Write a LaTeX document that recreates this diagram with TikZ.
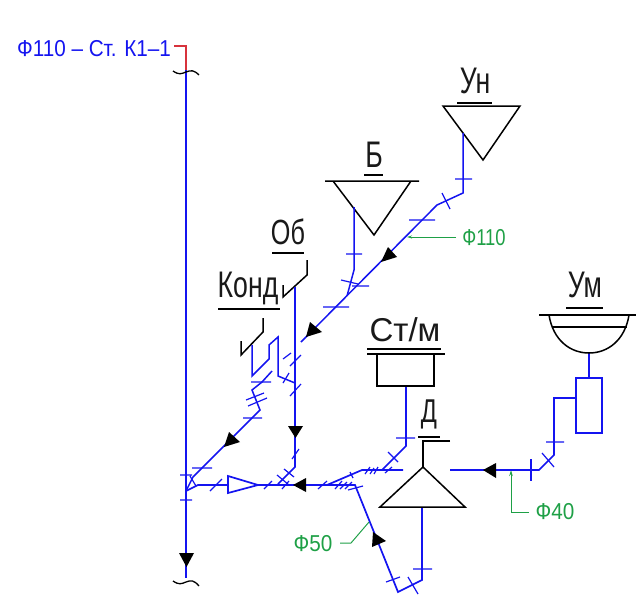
\documentclass[tikz,border=0pt]{standalone}
\usepackage{fontspec}
\usetikzlibrary{arrows.meta}
\newfontfamily\gost[FakeStretch=0.72]{Liberation Sans}
\newfontfamily\gostmid[FakeStretch=0.80]{Liberation Sans}
\newfontfamily\gostwide[FakeStretch=0.90]{Liberation Sans}
\newfontfamily\gostfull[FakeStretch=1.0]{Liberation Sans}
\definecolor{pipe}{RGB}{20,20,240}
\definecolor{leadgreen}{RGB}{30,160,70}
\definecolor{redl}{RGB}{215,50,60}
\tikzset{
 pipeline/.style={draw=pipe,line width=1.7pt,line join=miter},
 thinpipe/.style={draw=pipe,line width=1.5pt},
 tick/.style={draw=pipe,line width=1.2pt},
 fixture/.style={draw=black,line width=1.5pt},
 breakline/.style={draw=black,line width=1.3pt},
 leader/.style={draw=leadgreen,line width=1pt},
 flow/.style={fill=black,draw=none},
 bigtext/.style={inner sep=0pt,text=black!90,font=\gost\fontsize{37}{37}\selectfont},
 grntext/.style={inner sep=0pt,text=leadgreen,font=\gostwide\fontsize{23}{23}\selectfont},
 blutext/.style={inner sep=0pt,text=pipe,font=\gostwide\fontsize{23}{23}\selectfont},
}
\begin{document}
\begin{tikzpicture}[x=1pt,y=-1pt]
\useasboundingbox (0,0) rectangle (636,608);
% ---- main stack
\draw[redl,line width=1.2pt] (174,46) -- (186,46) -- (186,70);
\draw[pipeline] (186,70) -- (186,578);
\node[blutext] (stk) at (94,49) {Ф110 – Ст. К1–1};
\draw[breakline] (173,71) .. controls (179,75) and (181,74) .. (186,72) .. controls (191,70) and (194,70) .. (199,75);
\draw[breakline] (173,581) .. controls (179,585) and (181,584) .. (186,582) .. controls (191,580) and (194,580) .. (199,586);
\fill[flow] (179,553) -- (194,553) -- (186.5,567) -- cycle;
\draw[tick] (180,475) -- (192,475) (180,500) -- (192,500) (190,476) -- (196,486);
% ---- horizontal collector
\draw[pipeline] (186,491) -- (198,485) -- (228,485);
\draw[pipeline,fill=white] (228,476) -- (228,493) -- (258,485) -- cycle;
\draw[pipeline] (258,485) -- (355,485) -- (398,592) -- (422,580) -- (422,507);
\draw[pipeline] (327,485) -- (362,470) -- (403,470);
\draw[pipeline] (382,470) -- (406,446) -- (406,386);
\draw[tick] (210,491) -- (222,479) (264,489) -- (272,481) (282,489) -- (289,481)
 (318,489) -- (327,481) (335,489) -- (342,481) (340,489) -- (347,482) (345,489) -- (352,482)
 (350,472) -- (353,478) (348,490) -- (363,486) (365,474) -- (370,467) (370,474) -- (374,468)
 (374,474) -- (378,467) (385,473) -- (392,467) (388,452) -- (398,462) (396,438) -- (415,438)
 (413,569) -- (432,569) (408,577) -- (418,594) (386,582) -- (400,577);
\fill[flow] (293,485) -- (306,478) -- (306,492) -- cycle;
\fill[flow] (373,532) -- (372,547) -- (386,541) -- cycle;
% ---- Ст/м
\draw[fixture] (377,354) rectangle (434,386);
\draw[fixture] (367,354) -- (445,354) (367,349) -- (441,349);
\node[bigtext,font=\gostfull\fontsize{33}{33}\selectfont] (stm) at (405,330) {Ст/м};
% ---- Д
\node[bigtext,font=\gost\fontsize{33}{33}\selectfont] (dd) at (429,414) {Д};
\draw[fixture] (418,437) -- (440,437);
\draw[fixture] (450,441) -- (423,441) -- (423,467);
\draw[fixture] (423,467) -- (380,507) -- (465,507) -- cycle;
% ---- Ф50 / Ф40
\draw[leader] (340,543) -- (351,543) -- (369,522);
\node[grntext] (f50) at (313,544) {Ф50};
\draw[leader,-{Stealth[length=6pt,width=3.5pt]}] (529,512) -- (511,512) -- (511,470);
\node[grntext] (f40) at (555,512) {Ф40};
% ---- right branch
\draw[pipeline] (450,470) -- (539,470) -- (554,455) -- (554,398) -- (576,398);
\draw[pipeline] (576,378) rectangle (602,433);
\draw[pipeline] (589,378) -- (589,353);
\draw[tick] (546,442) -- (564,442) (542,453) -- (554,467);
\draw[pipeline,line width=1.4pt] (531,459) -- (531,481);
\fill[flow] (483,470) -- (496,463) -- (496,478) -- cycle;
\draw[fixture] (539,315) -- (636,315) (552,327) -- (627,327);
\draw[fixture] (549,315) .. controls (553,340) and (570,353) .. (589,353) .. controls (608,353) and (625,340) .. (629,315);
\draw[fixture] (566,308) -- (603,308);
\node[bigtext] (um) at (585,285) {Ум};
% ---- Ун
\draw[fixture] (443,106) -- (520,106) -- (483,160) -- cycle;
\draw[fixture] (457,103) -- (492,103);
\node[bigtext] (un) at (475,81) {Ун};
\draw[thinpipe] (463,133) -- (463,193) -- (437,205) -- (301,342);
\draw[tick] (455,179) -- (472,179) (442,193) -- (450,209) (409,220) -- (435,220) (323,307) -- (349,307);
\fill[flow] (388,247) -- (381,262) -- (397,257) -- cycle;
\fill[flow] (310,322) -- (306,337) -- (322,332) -- cycle;
\draw[leader,-{Stealth[length=5pt,width=3pt]}] (456,237) -- (407,237);
\node[grntext,font=\gostmid\fontsize{23}{23}\selectfont] (f110) at (484,238) {Ф110};
% ---- Б
\draw[fixture] (325,181) -- (419,181) (333,181) -- (374,235) -- (411,181);
\draw[fixture] (364,175) -- (383,175);
\node[bigtext] (bb) at (374,155) {Б};
\draw[thinpipe] (354,207) -- (354,270) -- (347,296);
\draw[tick] (346,254) -- (362,254) (341,280) -- (358,284) (352,286) -- (369,286);
% ---- Об
\node[bigtext,font=\gost\fontsize{35}{35}\selectfont] (ob) at (288,232) {Об};
\draw[fixture] (272,253) -- (304,253);
\draw[fixture] (307,260) -- (307,275) -- (283,297) -- (283,285);
\draw[pipeline] (295,287) -- (295,467) -- (278,484);
\fill[flow] (288,426) -- (303,426) -- (295.5,438) -- cycle;
\draw[tick] (283,359) -- (291,353) (290,366) -- (301,355) (283,383) -- (289,373) (290,396) -- (301,384)
 (292,459) -- (299,449) (284,469) -- (294,477) (277,475) -- (289,485);
% ---- Конд
\node[bigtext] (kond) at (248,288) {Конд};
\draw[fixture] (218,309) -- (280,309);
\draw[fixture] (263,318) -- (263,332) -- (241,355) -- (241,341);
\draw[thinpipe] (252,345) -- (252,376) -- (269,359) -- (269,345) -- (278,337) -- (278,376) -- (295,383);
\draw[thinpipe] (272,371) -- (262,382) -- (252,390) -- (260,410) -- (193,477) -- (186,491);
\draw[tick] (251,382) -- (271,382) (246,400) -- (264,393) (248,406) -- (267,398)
 (243,418) -- (262,418) (192,468) -- (212,468);
\fill[flow] (229,432) -- (224,447) -- (240,442) -- cycle;
\end{tikzpicture}
\end{document}
